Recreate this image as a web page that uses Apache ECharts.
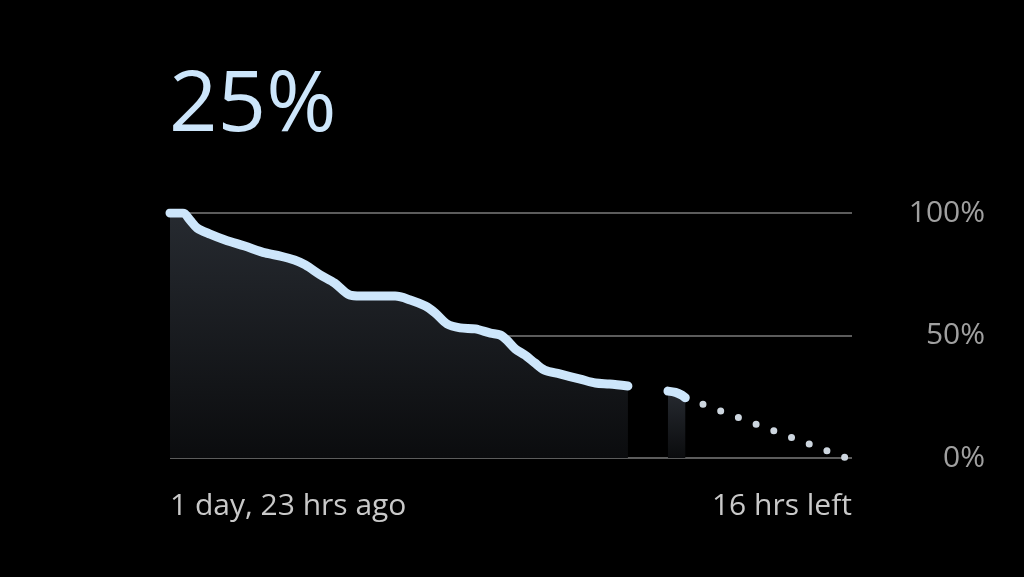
<!DOCTYPE html>
<html>
<head>
<meta charset="utf-8">
<script src="https://cdn.jsdelivr.net/npm/echarts@6/dist/echarts.min.js"></script>
<style>
html,body{margin:0;padding:0;background:#000;}
#c{width:1024px;height:577px;}
</style>
</head>
<body>
<div id="c"></div>
<script>
// Battery level history: [hours relative to now, percent]
const historyA = [
  [-47,100],[-45.8,100],[-45.15,97.1],[-44.5,93.9],[-43.3,91.4],[-41.9,89.0],[-40.1,86.5],
  [-38.2,83.7],[-36.8,82.4],[-35.5,80.8],[-34.5,78.8],[-33.1,74.7],[-31.8,71.4],[-30.4,66.5],
  [-29.4,66.1],[-26.2,66.1],[-24.8,64.5],[-23.4,62.0],[-22.5,59.2],[-21.4,54.7],[-20.2,53.1],
  [-18.8,52.7],[-17.4,51.0],[-16.5,50.2],[-15.9,48.2],[-15.1,44.5],[-14.2,42.0],[-13.3,38.8],
  [-12.4,35.9],[-11.0,34.3],[-9.1,32.2],[-7.7,30.6],[-6.4,30.2],[-4.7,29.4]
];
const historyB = [[-1.0,27.3],[-0.3,26.8],[0.3,25.6],[0.6,24.6]];
const projection = [[0.6,24.6],[15.5,0]];
const yTicks = [0,50,100];
const currentLevel = '25%';
const startLabel = '1 day, 23 hrs ago';
const endLabel = '16 hrs left';
const xMin = -47, xMax = 16;

const lineColor = '#cde6fb';
const areaGrad = {type:'linear',x:0,y:0,x2:0,y2:1,colorStops:[{offset:0,color:'#262a30'},{offset:1,color:'#0b0c0e'}]};
const font = '"Open Sans", "Noto Sans", sans-serif';

const chart = echarts.init(document.getElementById('c'));
chart.setOption({
  backgroundColor:'#000',
  animation:false,
  title:{text:currentLevel,left:169,top:64,padding:0,textStyle:{color:lineColor,fontSize:85,fontWeight:'normal',fontFamily:font}},
  grid:{left:170,right:172,top:213,bottom:119},
  xAxis:{type:'value',min:xMin,max:xMax,interval:xMax-xMin,
    axisLine:{show:false},axisTick:{show:false},splitLine:{show:false},
    axisLabel:{show:true,margin:33,color:'#c9c9c9',fontSize:30,fontFamily:font,alignMinLabel:'left',alignMaxLabel:'right',
      formatter:function(v){return v===xMin?startLabel:(v===xMax?endLabel:'');}}},
  yAxis:{type:'value',position:'right',min:0,max:100,interval:50,
    axisLine:{show:false},axisTick:{show:false},
    splitLine:{lineStyle:{color:'#5c5c5c',width:2}},
    axisLabel:{margin:133,align:'right',color:'#a0a0a0',fontSize:30,fontFamily:font,
      formatter:function(v){return yTicks.indexOf(v)>=0?v+'%':'';}}},
  series:[
    {type:'line',data:historyA,smooth:0.3,showSymbol:false,
      lineStyle:{color:lineColor,width:9,cap:'round',join:'round'},areaStyle:{color:areaGrad,opacity:1},z:3},
    {type:'line',data:historyB,smooth:0.3,showSymbol:false,
      lineStyle:{color:lineColor,width:9,cap:'round',join:'round'},areaStyle:{color:areaGrad,opacity:1},z:3},
    {type:'line',data:projection,showSymbol:false,
      lineStyle:{color:'#cdd6df',width:7,cap:'round',type:[0,18.9]},z:2}
  ]
});
</script>
</body>
</html>
